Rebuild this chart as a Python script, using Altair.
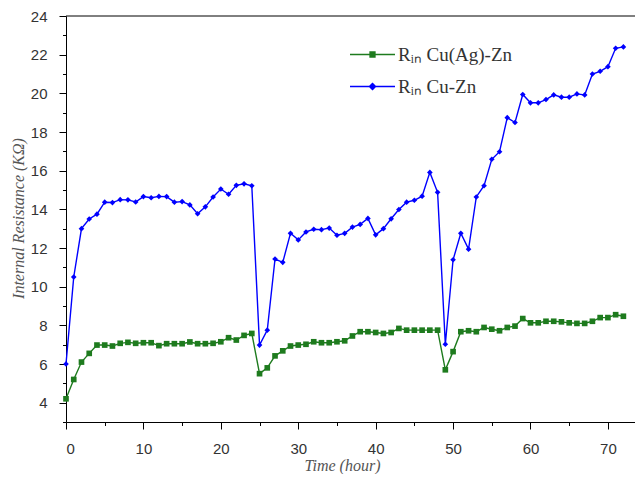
import altair as alt
import pandas as pd

# ---- data ----
hours = list(range(73))
cuag_zn = [4.2, 5.2, 6.1, 6.55, 6.98, 6.98, 6.93, 7.07, 7.12, 7.07,
           7.1, 7.1, 6.95, 7.05, 7.05, 7.05, 7.14, 7.05, 7.05, 7.07,
           7.15, 7.36, 7.24, 7.48, 7.58, 5.5, 5.8, 6.42, 6.68, 6.93,
           6.98, 7.02, 7.15, 7.1, 7.1, 7.15, 7.2, 7.45, 7.67, 7.67,
           7.63, 7.58, 7.63, 7.84, 7.75, 7.75, 7.75, 7.75, 7.75, 5.7,
           6.64, 7.67, 7.72, 7.67, 7.89, 7.8, 7.72, 7.89, 7.96, 8.35,
           8.13, 8.13, 8.21, 8.21, 8.18, 8.13, 8.1, 8.1, 8.21, 8.4,
           8.4, 8.55, 8.47]
cu_zn = [6.0, 10.5, 13.0, 13.5, 13.75, 14.37, 14.35, 14.5, 14.49, 14.38,
         14.66, 14.6, 14.67, 14.66, 14.37, 14.4, 14.23, 13.77, 14.13, 14.64,
         15.05, 14.78, 15.24, 15.32, 15.22, 6.98, 7.75, 11.43, 11.26, 12.76,
         12.42, 12.83, 12.97, 12.95, 13.03, 12.66, 12.76, 13.08, 13.22, 13.53,
         12.68, 13.0, 13.51, 13.99, 14.37, 14.47, 14.68, 15.91, 14.88, 7.02,
         11.39, 12.76, 11.94, 14.64, 15.22, 16.59, 16.98, 18.74, 18.49, 19.94,
         19.51, 19.51, 19.68, 19.92, 19.8, 19.8, 19.97, 19.92, 21.0, 21.14,
         21.38, 22.33, 22.4]
series_names = ["R\u1d62\u2099 Cu(Ag)-Zn", "R\u1d62\u2099 Cu-Zn"]
x_ticks = list(range(0, 75, 5))
y_ticks = list(range(3, 25))

# ---- styling ----
colors = ["#1e7b1e", "#0000ff"]
marker_shapes = ["square", "diamond"]
legend_paths = [
    "M-2,-0.065H2V0.065H-2ZM-0.28,-0.28H0.28V0.28H-0.28Z",
    "M-2,-0.065H2V0.065H-2ZM0,-0.36L0.36,0L0,0.36L-0.36,0Z",
]
legend_y = [27, 59]
W, H = 569, 406

df = pd.concat([
    pd.DataFrame({"hour": hours, "value": cuag_zn, "series": series_names[0]}),
    pd.DataFrame({"hour": hours, "value": cu_zn, "series": series_names[1]}),
])

xs = alt.Scale(domain=[0, 73.5], nice=False, zero=False)
ys = alt.Scale(domain=[3, 24], nice=False, zero=False)

x_axis = alt.Axis(
    values=x_ticks,
    labelExpr="datum.value % 10 == 0 ? datum.label : ''",
    tickSize={"condition": {"test": "datum.value % 10 == 0", "value": 7}, "value": 3.5},
    labelPadding=12,
    title="Time (hour)",
    titleX=276, titleY=48, titleAlign="center", titleBaseline="alphabetic",
    titleAnchor="start",
)
y_axis = alt.Axis(
    values=y_ticks,
    labelExpr="datum.value % 2 == 0 ? datum.label : ''",
    tickSize={"condition": {"test": "datum.value % 2 == 0", "value": 7}, "value": 3.5},
    labelPadding=12,
    title="Internal Resistance (K\u03a9)",
    titleAngle=270, titleX=-43, titleY=202, titleAlign="center",
    titleBaseline="alphabetic", titleAnchor="start",
)

cscale = alt.Scale(domain=series_names, range=colors)
x_enc = alt.X("hour:Q", scale=xs, axis=x_axis)
y_enc = alt.Y("value:Q", scale=ys, axis=y_axis)

base = alt.Chart(df)

layers = [
    base.mark_line(strokeWidth=1.4).encode(
        x=x_enc, y=y_enc,
        color=alt.Color("series:N", scale=cscale, legend=None),
    )
]

for name, col, shp, path, ly in zip(series_names, colors, marker_shapes, legend_paths, legend_y):
    sub = base.transform_filter(alt.datum.series == name)
    layers.append(
        sub.mark_point(filled=True, opacity=1, size=32, shape=shp, color=col).encode(
            x=x_enc, y=y_enc
        )
    )
    leg = alt.Legend(
        title=None, orient="none", legendX=295, legendY=ly, direction="vertical",
        padding=0, symbolSize=506, symbolStrokeWidth=0, symbolOpacity=1,
        symbolFillColor=col,
        labelFont="Liberation Serif", labelFontSize=19,
        labelColor="#333333", labelOffset=14, labelLimit=400,
    )
    layers.append(
        sub.mark_point(filled=True, color=col, opacity=0, size=1).encode(
            x=x_enc, y=y_enc,
            shape=alt.Shape("series:N", scale=alt.Scale(domain=[name], range=[path]), legend=leg),
        )
    )

layers.append(
    alt.Chart(alt.Data(values=[{}])).mark_rule(color="black", strokeWidth=1).encode(
        x=alt.value(0), x2=alt.value(W), y=alt.value(0)
    )
)

chart = alt.layer(*layers).resolve_scale(shape="independent").properties(
    width=W, height=H,
    autosize=alt.AutoSizeParams(type="none"),
    padding={"left": 58, "top": 8, "right": 0, "bottom": 52},
).configure_view(stroke=None).configure_axis(
    grid=False, domainColor="black", domainWidth=1, tickColor="black", tickWidth=1,
    labelFont="Liberation Sans", labelFontSize=15, labelColor="#333333",
    titleFont="Liberation Serif", titleFontStyle="italic", titleFontWeight="normal",
    titleFontSize=16, titleColor="#555555",
)

chart.save("out.html", embed_options={"renderer": "svg", "actions": False})
